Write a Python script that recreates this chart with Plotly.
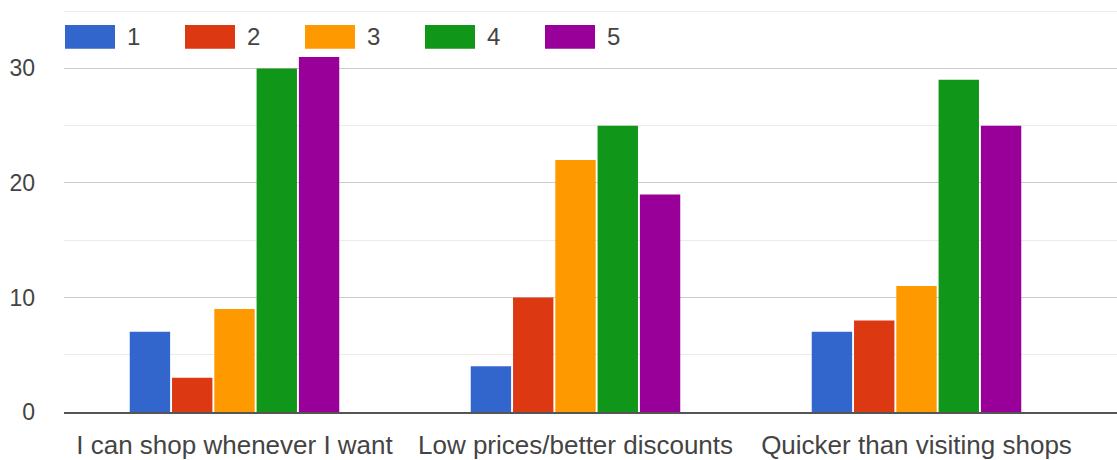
import plotly.graph_objects as go

# Survey responses: count of each rating (1-5) for every reason
categories = [
    "I can shop whenever I want",
    "Low prices/better discounts",
    "Quicker than visiting shops",
]
rating_labels = ["1", "2", "3", "4", "5"]
rating_1 = [7, 4, 7]
rating_2 = [3, 10, 8]
rating_3 = [9, 22, 11]
rating_4 = [30, 25, 29]
rating_5 = [31, 19, 25]
y_ticks = [0, 10, 20, 30]

series = [rating_1, rating_2, rating_3, rating_4, rating_5]
colors = ["#3366cc", "#dc3912", "#ff9900", "#109618", "#990099"]

W, H = 1117, 460
M_L, M_R, M_T, M_B = 64, 0, 10, 45
plot_w = W - M_L - M_R
plot_h = H - M_T - M_B
font_family = "Liberation Sans, Arial, sans-serif"
text_color = "#444444"

fig = go.Figure()
for label, values, color in zip(rating_labels, series, colors):
    fig.add_trace(go.Bar(
        name=label,
        x=categories,
        y=values,
        marker=dict(color=color, line=dict(width=0)),
        showlegend=False,
    ))

# Custom legend row with wide colour swatches
def px_to_paper_x(px):
    return (px - M_L) / plot_w

def px_to_paper_y(py):
    return (H - M_B - py) / plot_h

shapes = []
annotations = []
for i, (label, color) in enumerate(zip(rating_labels, colors)):
    left = 65 + 120 * i
    shapes.append(dict(
        type="rect", xref="paper", yref="paper",
        x0=px_to_paper_x(left), x1=px_to_paper_x(left + 50),
        y0=px_to_paper_y(49), y1=px_to_paper_y(25),
        fillcolor=color, line=dict(width=0), layer="above",
    ))
    annotations.append(dict(
        text=label, xref="paper", yref="paper",
        x=px_to_paper_x(left + 60), y=px_to_paper_y(37),
        xanchor="left", yanchor="middle", showarrow=False,
        font=dict(family=font_family, size=24, color=text_color),
    ))

fig.update_layout(
    width=W, height=H,
    margin=dict(l=M_L, r=M_R, t=M_T, b=M_B, pad=0),
    paper_bgcolor="white",
    plot_bgcolor="white",
    barmode="group",
    bargap=0.38,
    bargroupgap=0.045,
    shapes=shapes,
    annotations=annotations,
    font=dict(family=font_family, color=text_color),
)

fig.update_xaxes(
    type="category",
    range=[-0.5, -0.5 + plot_w / 341.0],
    showgrid=False,
    showline=True,
    linecolor="#555555",
    linewidth=2,
    ticks="",
    tickfont=dict(family=font_family, size=26, color=text_color),
    ticklabelstandoff=9,
    fixedrange=True,
)

fig.update_yaxes(
    range=[0, 35.1],
    tickmode="array",
    tickvals=y_ticks,
    ticktext=[str(v) for v in y_ticks],
    showgrid=True,
    gridcolor="#cccccc",
    gridwidth=1,
    zeroline=False,
    showline=False,
    ticks="",
    tickfont=dict(family=font_family, size=23, color=text_color),
    ticklabelstandoff=28,
    minor=dict(dtick=5, showgrid=True, gridcolor="#ebebeb", gridwidth=1),
    fixedrange=True,
)

fig.write_html("out.html")
